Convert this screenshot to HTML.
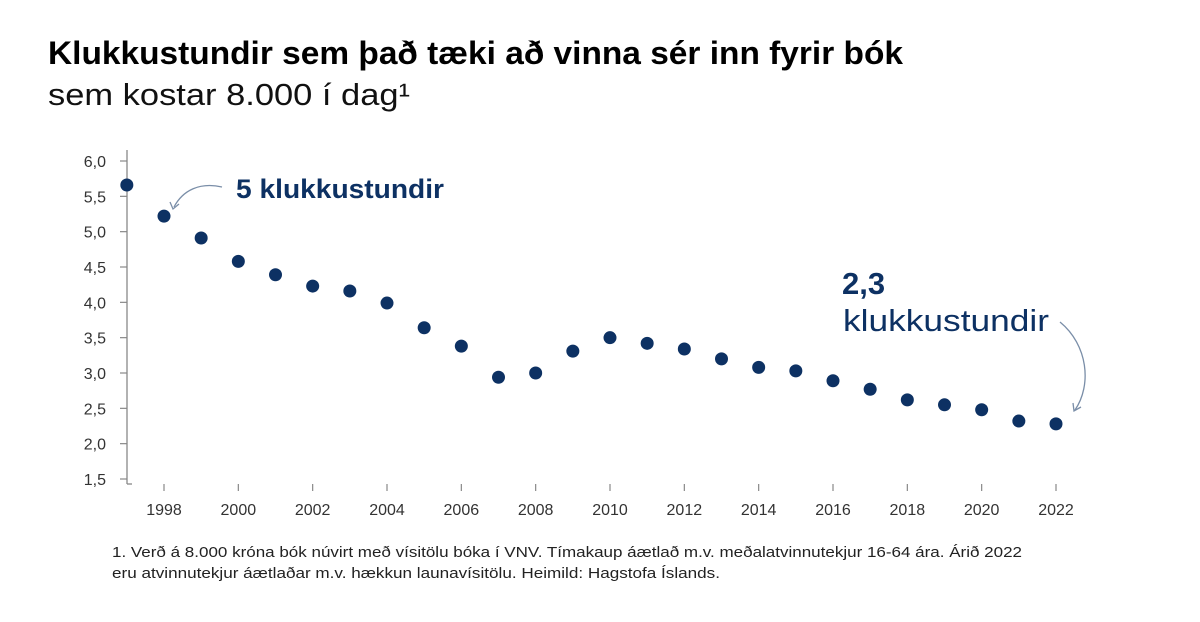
<!DOCTYPE html>
<html><head><meta charset="utf-8"><style>
body{margin:0;background:#fff;width:1200px;height:617px;overflow:hidden;font-family:"Liberation Sans",sans-serif}
</style></head><body>
<svg width="1200" height="617" xmlns="http://www.w3.org/2000/svg">
<text x="48" y="64" font-size="32" font-weight="bold" fill="#000" textLength="855" lengthAdjust="spacingAndGlyphs">Klukkustundir sem það tæki að vinna sér inn fyrir bók</text>
<text x="48" y="105" font-size="31" fill="#111" textLength="362" lengthAdjust="spacingAndGlyphs">sem kostar 8.000 í dag¹</text>
<g id="axes"></g>
<g id="marks"></g>
<text x="236" y="198" font-size="27" font-weight="bold" fill="#0d3163" textLength="208" lengthAdjust="spacingAndGlyphs">5 klukkustundir</text>
<path d="M222,187 C200,182 183,190 174,207" fill="none" stroke="#7a8ea8" stroke-width="1.3"/>
<path d="M170,202 L173,209 L179,204" fill="none" stroke="#7a8ea8" stroke-width="1.3"/>
<text x="842" y="294" font-size="31" font-weight="bold" fill="#0d3163">2,3</text>
<text x="843" y="331" font-size="31" fill="#0d3163" textLength="206" lengthAdjust="spacingAndGlyphs">klukkustundir</text>
<path d="M1060,322 C1088,345 1092,385 1075,410" fill="none" stroke="#7a8ea8" stroke-width="1.3"/>
<path d="M1073,403 L1074,411 L1081,407" fill="none" stroke="#7a8ea8" stroke-width="1.3"/>
<text x="112" y="557" font-size="15" fill="#222" textLength="910" lengthAdjust="spacingAndGlyphs">1. Verð á 8.000 króna bók núvirt með vísitölu bóka í VNV. Tímakaup áætlað m.v. meðalatvinnutekjur 16-64 ára. Árið 2022</text>
<text x="112" y="578" font-size="15" fill="#222" textLength="608" lengthAdjust="spacingAndGlyphs">eru atvinnutekjur áætlaðar m.v. hækkun launavísitölu. Heimild: Hagstofa Íslands.</text>
</svg>
<script>
const years=[1997,1998,1999,2000,2001,2002,2003,2004,2005,2006,2007,2008,2009,2010,2011,2012,2013,2014,2015,2016,2017,2018,2019,2020,2021,2022];
const hours=[5.66,5.22,4.91,4.58,4.39,4.23,4.16,3.99,3.64,3.38,2.94,3.0,3.31,3.5,3.42,3.34,3.2,3.08,3.03,2.89,2.77,2.62,2.55,2.48,2.32,2.28];
const yTicks=[1.5,2.0,2.5,3.0,3.5,4.0,4.5,5.0,5.5,6.0];
const xTicks=[1998,2000,2002,2004,2006,2008,2010,2012,2014,2016,2018,2020,2022];
const NS="http://www.w3.org/2000/svg";
const X=v=>164+(v-1998)*(1056-164)/24;
const Y=v=>479-(v-1.5)*(479-161)/4.5;
function mk(t,a,p){const e=document.createElementNS(NS,t);for(const k in a)e.setAttribute(k,a[k]);p.appendChild(e);return e;}
const ax=document.getElementById('axes'),mg=document.getElementById('marks');
const yl=mk('line',{x1:127,y1:150,x2:127,y2:484,stroke:'#888','stroke-width':1.3},ax);


const xl=mk('line',{x1:127,y1:484,x2:132,y2:484,stroke:'#888','stroke-width':1.3},ax);


yTicks.forEach(v=>{
 mk('line',{x1:120,y1:Y(v),x2:127,y2:Y(v),stroke:'#888','stroke-width':1.2},ax);
 const t=mk('text',{x:106,y:Y(v)+6,'font-size':16,fill:'#333','text-anchor':'end'},ax);
 t.textContent=v.toFixed(1).replace('.',',');
 
 
});
xTicks.forEach(v=>{
 mk('line',{x1:X(v),y1:484,x2:X(v),y2:491,stroke:'#888','stroke-width':1.2},ax);
 const t=mk('text',{x:X(v),y:515,'font-size':16,fill:'#333','text-anchor':'middle'},ax);
 t.textContent=v;
 
 
});
years.forEach((yr,i)=>{
 const c=mk('circle',{cx:X(yr),cy:Y(hours[i]),r:6.5,fill:'#0d3163'},mg);
 
 
});
</script>
</body></html>
